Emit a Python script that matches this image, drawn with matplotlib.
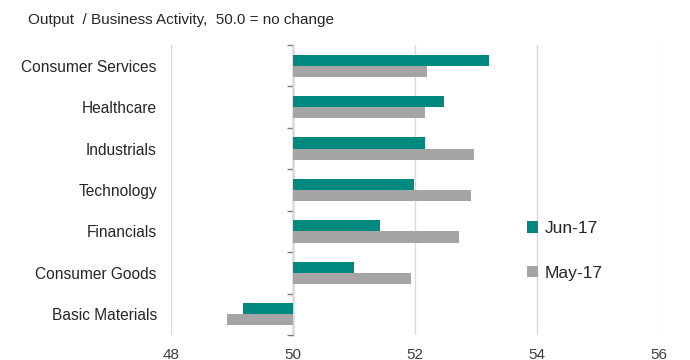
import matplotlib
matplotlib.use("Agg")
import matplotlib.pyplot as plt
import numpy as np

plt.rcParams['font.family'] = ['Liberation Sans', 'DejaVu Sans']

categories = ["Consumer Services", "Healthcare", "Industrials", "Technology",
              "Financials", "Consumer Goods", "Basic Materials"]
jun17 = [53.21, 52.47, 52.16, 51.98, 51.42, 51.00, 49.18]
may17 = [52.19, 52.16, 52.97, 52.91, 52.72, 51.94, 48.92]
series_names = ["Jun-17", "May-17"]
xticks = [48, 50, 52, 54, 56]
base = 50.0

teal = "#00897E"
gray = "#A5A5A5"

fig = plt.figure(figsize=(6.9, 3.6), dpi=100)
ax = fig.add_axes([0.2474, 0.0694, 0.7081, 0.8056])

n = len(categories)
y = np.arange(n)
h = 0.27
ax.barh(y - h / 2, np.array(jun17) - base, left=base, height=h, color=teal, label=series_names[0])
ax.barh(y + h / 2, np.array(may17) - base, left=base, height=h, color=gray, label=series_names[1])

ax.set_xlim(48, 56)
ax.set_ylim(n - 0.5, -0.5)
ax.set_xticks(xticks)
ax.set_xticklabels([str(t) for t in xticks], fontsize=11, color="#404040")
ax.set_yticks(y)
ax.set_yticklabels(categories, fontsize=11.2, color="#262626")
ax.tick_params(axis='y', length=0, pad=10)
ax.tick_params(axis='x', length=0, pad=9)
ax.grid(axis='x', color="#D9D9D9", linewidth=1)
ax.set_axisbelow(True)
for s in ax.spines.values():
    s.set_visible(False)

# axis line at 50 with category boundary ticks
sec = ax.secondary_yaxis((base - 48) / (56 - 48))
sec.set_yticks(np.arange(n + 1) - 0.5)
sec.set_yticklabels([])
sec.tick_params(axis='y', length=4, color="#7F7F7F", width=1)
sec.spines['left'].set_color("#7F7F7F")
sec.spines['left'].set_linewidth(1)

leg = ax.legend(loc='center left', bbox_to_anchor=(0.715, 0.29), frameon=False,
                fontsize=12.5, handlelength=0.65, handleheight=0.65,
                handletextpad=0.35, labelspacing=1.7, borderaxespad=0)
for t in leg.get_texts():
    t.set_color("#262626")

fig.text(0.041, 0.945, "Output  / Business Activity,  50.0 = no change",
         fontsize=11, color="#262626", va='center', ha='left')

fig.savefig("out.png", dpi=100)
